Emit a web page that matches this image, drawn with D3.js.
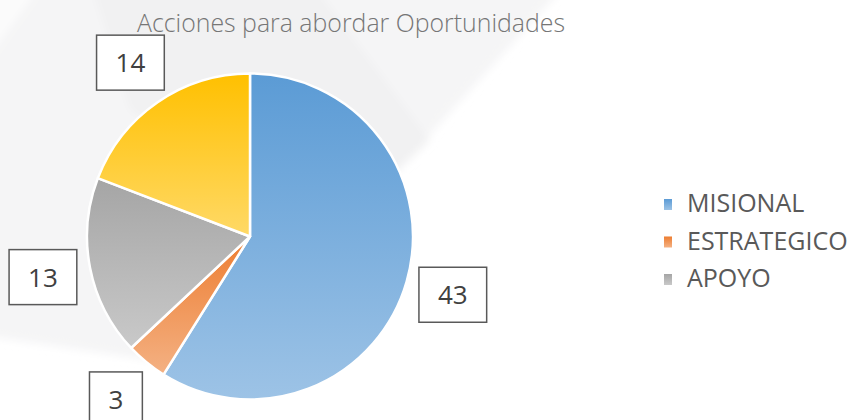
<html>
<head>
  <style>
    body { margin: 0; background: #fff; }
    svg { display: block; }
  </style>
  <script src="https://d3js.org/d3.v7.min.js"></script>
</head>
<body>
  <div id="chart"></div>
  <script type="text/javascript">
    // data
    var categories = ["MISIONAL", "ESTRATEGICO", "APOYO", "EVALUACION"]
    var values = [43, 3, 13, 14]
    var legendItems = ["MISIONAL", "ESTRATEGICO", "APOYO"]
    var colorsTop = ["#5b9bd5", "#ed7d31", "#a5a5a5", "#ffc000"]
    var colorsBottom = ["#9dc3e6", "#f4b183", "#c9c9c9", "#ffd966"]
    var title = "Acciones para abordar Oportunidades"

    var width = 853, height = 420
    var cx = 250, cy = 236.5, r = 163, labelR = 211

    var svg = d3.select("#chart").append("svg")
        .attr("width", width)
        .attr("height", height)

    var defs = svg.append("defs")
    defs.append("filter").attr("id", "soft")
      .attr("x", "-10%").attr("y", "-10%").attr("width", "120%").attr("height", "120%")
      .append("feGaussianBlur").attr("stdDeviation", 4)

    // faint background shapes
    var bg = svg.append("g").attr("filter", "url(#soft)")
    bg.append("polygon")
      .attr("points", "-20,-20 570,-20 425,140 300,250 150,360 -20,335")
      .attr("fill", "#f5f5f6")
    bg.append("polygon")
      .attr("points", "90,-20 310,-20 430,140 330,235 130,110")
      .attr("fill", "#f1f1f2")
    bg.append("polygon")
      .attr("points", "-20,-20 45,-20 -20,70")
      .attr("fill", "#fbfbfb")

    // title
    svg.append("text")
      .attr("x", 137)
      .attr("y", 32)
      .attr("textLength", 428)
      .attr("lengthAdjust", "spacingAndGlyphs")
      .style("font-family", "'Open Sans', sans-serif")
      .style("font-weight", 300)
      .style("font-size", "25px")
      .style("fill", "#767676")
      .text(title)

    // gradients
    categories.forEach(function(c, i) {
      var g = defs.append("linearGradient")
          .attr("id", "grad_" + i)
          .attr("x1", 0).attr("y1", 0).attr("x2", 0).attr("y2", 1)
      g.append("stop").attr("offset", "0%").attr("stop-color", colorsTop[i])
      g.append("stop").attr("offset", "100%").attr("stop-color", colorsBottom[i])
    })

    var pie = d3.pie().sort(null).value(function(d) { return d })
    var arcs = pie(values)
    var arc = d3.arc().innerRadius(0).outerRadius(r)
    var labelArc = d3.arc().innerRadius(labelR).outerRadius(labelR)

    var pieG = svg.append("g").attr("transform", "translate(" + cx + "," + cy + ")")

    pieG.selectAll("path")
      .data(arcs)
      .enter()
      .append("path")
      .attr("d", arc)
      .attr("fill", function(d, i) { return "url(#grad_" + i + ")" })
      .attr("stroke", "#fff")
      .attr("stroke-width", 2.5)
      .attr("stroke-linejoin", "round")

    // data labels in boxes
    var labels = pieG.selectAll("g.lbl")
      .data(arcs)
      .enter()
      .append("g")
      .attr("class", "lbl")
      .attr("transform", function(d) {
        var c = labelArc.centroid(d)
        return "translate(" + c[0] + "," + c[1] + ")"
      })

    labels.append("rect")
    labels.append("text")
      .attr("text-anchor", "middle")
      .attr("y", 9.5)
      .style("font-family", "'Open Sans', sans-serif")
      .style("font-size", "26px")
      .style("fill", "#404040")
      .text(function(d) { return d.data })

    labels.each(function() {
      var g = d3.select(this)
      var w = g.select("text").node().getComputedTextLength() + 38
      g.select("rect")
        .attr("x", -w / 2)
        .attr("y", -27.5)
        .attr("width", w)
        .attr("height", 55)
        .attr("fill", "#fff")
        .attr("stroke", "#595959")
        .attr("stroke-width", 1.5)
    })

    // legend
    var legend = svg.append("g").attr("transform", "translate(664,212)")
    var items = legend.selectAll("g")
      .data(legendItems)
      .enter()
      .append("g")
      .attr("transform", function(d, i) { return "translate(0," + (i * 37.5) + ")" })

    items.append("rect")
      .attr("x", 0)
      .attr("y", -13)
      .attr("width", 8)
      .attr("height", 11)
      .attr("fill", function(d, i) { return "url(#grad_" + i + ")" })

    items.append("text")
      .attr("x", 23)
      .attr("y", 0)
      .style("font-family", "'Open Sans', sans-serif")
      .style("font-size", "25px")
      .style("fill", "#595959")
      .text(function(d) { return d })
  </script>
</body>
</html>
